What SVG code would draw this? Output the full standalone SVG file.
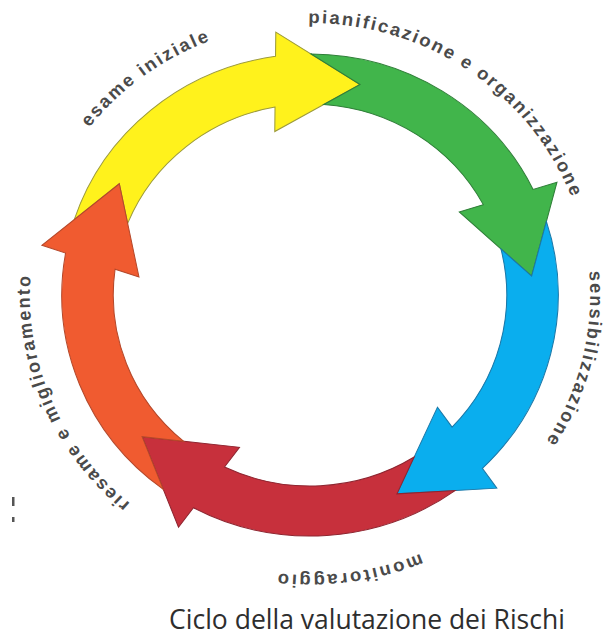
<svg xmlns="http://www.w3.org/2000/svg" xmlns:xlink="http://www.w3.org/1999/xlink" width="608" height="639" viewBox="0 0 608 639">
<style>
.lbl{font-family:"Liberation Sans",Arial,sans-serif;font-weight:bold;font-size:18px;fill:#4a4a4a;letter-spacing:2px}
.arr{stroke-width:1;stroke-linejoin:miter}
.title{font-family:"Open Sans","Noto Sans",sans-serif;font-size:26.5px;fill:#2e2e2e}
.mark{fill:#555555}
</style>
<defs>
<path id="arrow" d="M21.97,-240 A241,241 0 0 1 225,-86.3 L248.7,-91.5 L216,0 L151.6,-70.1 L175.5,-75.37 A191,191 0 0 0 30.01,-188.63 L66.75,-205.43 Z"/>
<path id="lp" d="M-255.6,-93.03 A272,272 0 1 1 255.6,93.03 A272,272 0 1 1 -255.6,-93.03"/>
</defs>
<rect width="608" height="639" fill="#ffffff"/>
<g id="cycle" transform="translate(310 295) scale(1.03 1)">
  <g id="esame-iniziale">
    <use xlink:href="#arrow" href="#arrow" class="arr" transform="rotate(-77)" fill="#FFF21C" stroke="#9C9A3C"/>
    <text class="lbl" text-anchor="middle"><textPath xlink:href="#lp" href="#lp" startOffset="160">esame iniziale</textPath></text>
  </g>
  <g id="pianificazione">
    <use xlink:href="#arrow" href="#arrow" class="arr" transform="rotate(-5)" fill="#41B54B" stroke="#2F7F38"/>
    <text class="lbl" text-anchor="middle"><textPath xlink:href="#lp" href="#lp" startOffset="495.6">pianificazione e organizzazione</textPath></text>
  </g>
  <g id="sensibilizzazione">
    <use xlink:href="#arrow" href="#arrow" class="arr" transform="rotate(67)" fill="#0AAEEE" stroke="#1B78A8"/>
    <text class="lbl" text-anchor="middle"><textPath xlink:href="#lp" href="#lp" startOffset="825.6">sensibilizzazione</textPath></text>
  </g>
  <g id="monitoraggio">
    <use xlink:href="#arrow" href="#arrow" class="arr" transform="rotate(139)" fill="#C7303C" stroke="#8E2530"/>
    <text class="lbl" text-anchor="middle"><textPath xlink:href="#lp" href="#lp" startOffset="1148.8"><tspan dy="-8">monitoraggio</tspan></textPath></text>
  </g>
  <g id="riesame">
    <use xlink:href="#arrow" href="#arrow" class="arr" transform="rotate(211)" fill="#F05B30" stroke="#B5482A"/>
    <text class="lbl" text-anchor="middle"><textPath xlink:href="#lp" href="#lp" startOffset="1505">riesame e miglioramento</textPath></text>
  </g>
</g>
<g id="marks">
  <rect class="mark" x="12" y="497" width="2.5" height="9"/>
  <rect class="mark" x="12" y="517" width="2.5" height="5"/>
</g>
<text id="title" class="title" x="367" y="629" text-anchor="middle">Ciclo della valutazione dei Rischi</text>
</svg>
